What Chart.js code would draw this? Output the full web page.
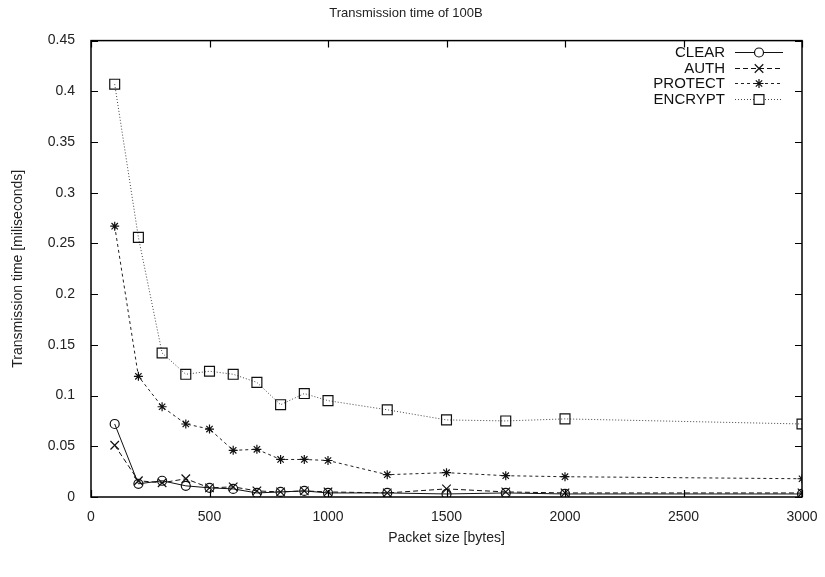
<!DOCTYPE html>
<html>
<head>
<meta charset="utf-8">
<script src="https://cdn.jsdelivr.net/npm/chart.js@4"></script>
<style>
  html, body { margin: 0; padding: 0; background: #fff; }
  #wrap { width: 825px; height: 577px; }
</style>
</head>
<body>
<div id="wrap"><canvas id="timeChart" width="825" height="577"></canvas></div>
<script>
// packet sizes in bytes
const packetSizes = [100, 200, 300, 400, 500, 600, 700, 800, 900, 1000, 1250, 1500, 1750, 2000, 3000];

// transmission times in miliseconds
const clearTimes   = [0.072, 0.013, 0.016, 0.011, 0.009, 0.008, 0.004, 0.005, 0.006, 0.004, 0.004, 0.003, 0.004, 0.003, 0.003];
const authTimes    = [0.051, 0.016, 0.014, 0.018, 0.009, 0.010, 0.006, 0.005, 0.006, 0.005, 0.004, 0.008, 0.005, 0.004, 0.004];
const protectTimes = [0.267, 0.119, 0.089, 0.072, 0.067, 0.046, 0.047, 0.037, 0.037, 0.036, 0.022, 0.024, 0.021, 0.020, 0.018];
const encryptTimes = [0.407, 0.256, 0.142, 0.121, 0.124, 0.121, 0.113, 0.091, 0.102, 0.095, 0.086, 0.076, 0.075, 0.077, 0.072];

const xTicks = [0, 500, 1000, 1500, 2000, 2500, 3000];
const yTicks = [0, 0.05, 0.1, 0.15, 0.2, 0.25, 0.3, 0.35, 0.4, 0.45];

const FONT = 'Liberation Sans, Arial, Helvetica, sans-serif';

const toPoints = arr => packetSizes.map((x, i) => ({ x: x, y: arr[i] }));

function series(label, values, dash, style, radius, color) {
  return {
    label: label,
    data: toPoints(values),
    borderColor: color,
    borderWidth: 1,
    borderDash: dash,
    pointStyle: style,
    pointRadius: radius,
    pointBorderColor: '#111',
    pointBorderWidth: 1.2,
    pointBackgroundColor: 'rgba(0,0,0,0)',
    tension: 0
  };
}

// gnuplot style frame with inward ticks on all four sides
const framePlugin = {
  id: 'frame',
  afterDraw(chart) {
    const { ctx, chartArea: a, scales } = chart;
    ctx.save();
    ctx.strokeStyle = '#000';
    ctx.lineWidth = 1.5;
    ctx.setLineDash([]);
    ctx.strokeRect(a.left, a.top, a.right - a.left, a.bottom - a.top);
    ctx.lineWidth = 1.2;
    const len = 7;
    ctx.beginPath();
    xTicks.forEach(v => {
      const px = Math.round(scales.x.getPixelForValue(v)) + 0.5;
      ctx.moveTo(px, a.bottom); ctx.lineTo(px, a.bottom - len);
      ctx.moveTo(px, a.top); ctx.lineTo(px, a.top + len);
    });
    yTicks.forEach(v => {
      const py = Math.round(scales.y.getPixelForValue(v)) + 0.5;
      ctx.moveTo(a.left, py); ctx.lineTo(a.left + len, py);
      ctx.moveTo(a.right, py); ctx.lineTo(a.right - len, py);
    });
    ctx.stroke();
    ctx.restore();
  }
};

// legend inside the top right corner, text then line sample
const keyPlugin = {
  id: 'key',
  afterDatasetsDraw(chart) {
    const { ctx } = chart;
    const textRight = 725, lineL = 735, lineR = 783, top = 52, step = 15.6;
    ctx.save();
    ctx.font = '15px ' + FONT;
    ctx.textAlign = 'right';
    ctx.textBaseline = 'middle';
    chart.data.datasets.forEach((ds, i) => {
      const y = top + i * step;
      const yy = Math.round(y) + 0.5;
      ctx.fillStyle = '#111';
      ctx.fillText(ds.label, textRight, y + 1);
      ctx.strokeStyle = ds.borderColor;
      ctx.lineWidth = 1;
      ctx.setLineDash(ds.borderDash);
      ctx.beginPath();
      ctx.moveTo(lineL, yy);
      ctx.lineTo(lineR, yy);
      ctx.stroke();
      ctx.setLineDash([]);
      ctx.fillStyle = '#fff';
      ctx.strokeStyle = '#111';
      ctx.lineWidth = ds.pointBorderWidth;
      Chart.helpers.drawPoint(ctx, {
        pointStyle: ds.pointStyle,
        radius: ds.pointRadius,
        rotation: 0,
        borderWidth: ds.pointBorderWidth
      }, (lineL + lineR) / 2, yy);
    });
    ctx.restore();
  }
};

Chart.defaults.font.family = FONT;
Chart.defaults.color = '#222';

new Chart(document.getElementById('timeChart').getContext('2d'), {
  type: 'line',
  data: {
    datasets: [
      series('CLEAR', clearTimes, [], 'circle', 4.5, '#111'),
      series('AUTH', authTimes, [5, 3], 'crossRot', 6, '#111'),
      series('PROTECT', protectTimes, [3, 3], 'star', 4.5, '#222'),
      series('ENCRYPT', encryptTimes, [1, 2], 'rect', 7, '#444')
    ]
  },
  options: {
    responsive: false,
    animation: false,
    devicePixelRatio: 1,
    layout: { padding: { left: 10, right: 23, top: 0, bottom: 26 } },
    plugins: {
      legend: { display: false },
      tooltip: { enabled: false },
      title: {
        display: true,
        text: 'Transmission time of 100B',
        font: { size: 13, weight: 'normal' },
        color: '#222',
        padding: { top: 6, bottom: 19 }
      }
    },
    scales: {
      x: {
        type: 'linear',
        min: 0,
        max: 3000,
        afterBuildTicks: s => { s.ticks = xTicks.map(v => ({ value: v })); },
        afterFit: s => { s.height = 54; },
        grid: { display: false },
        border: { display: false },
        ticks: { font: { size: 14 }, padding: 4, maxRotation: 0, callback: v => String(v) },
        title: { display: true, text: 'Packet size [bytes]', font: { size: 14 }, padding: { top: 8 } }
      },
      y: {
        min: 0,
        max: 0.45,
        afterBuildTicks: s => { s.ticks = yTicks.map(v => ({ value: v })); },
        afterFit: s => { s.width = 81; },
        grid: { display: false },
        border: { display: false },
        ticks: { font: { size: 14 }, padding: 8, callback: v => String(+v.toFixed(2)) },
        title: { display: true, text: 'Transmission time [miliseconds]', font: { size: 14 }, padding: 0 }
      }
    }
  },
  plugins: [framePlugin, keyPlugin]
});
</script>
</body>
</html>
